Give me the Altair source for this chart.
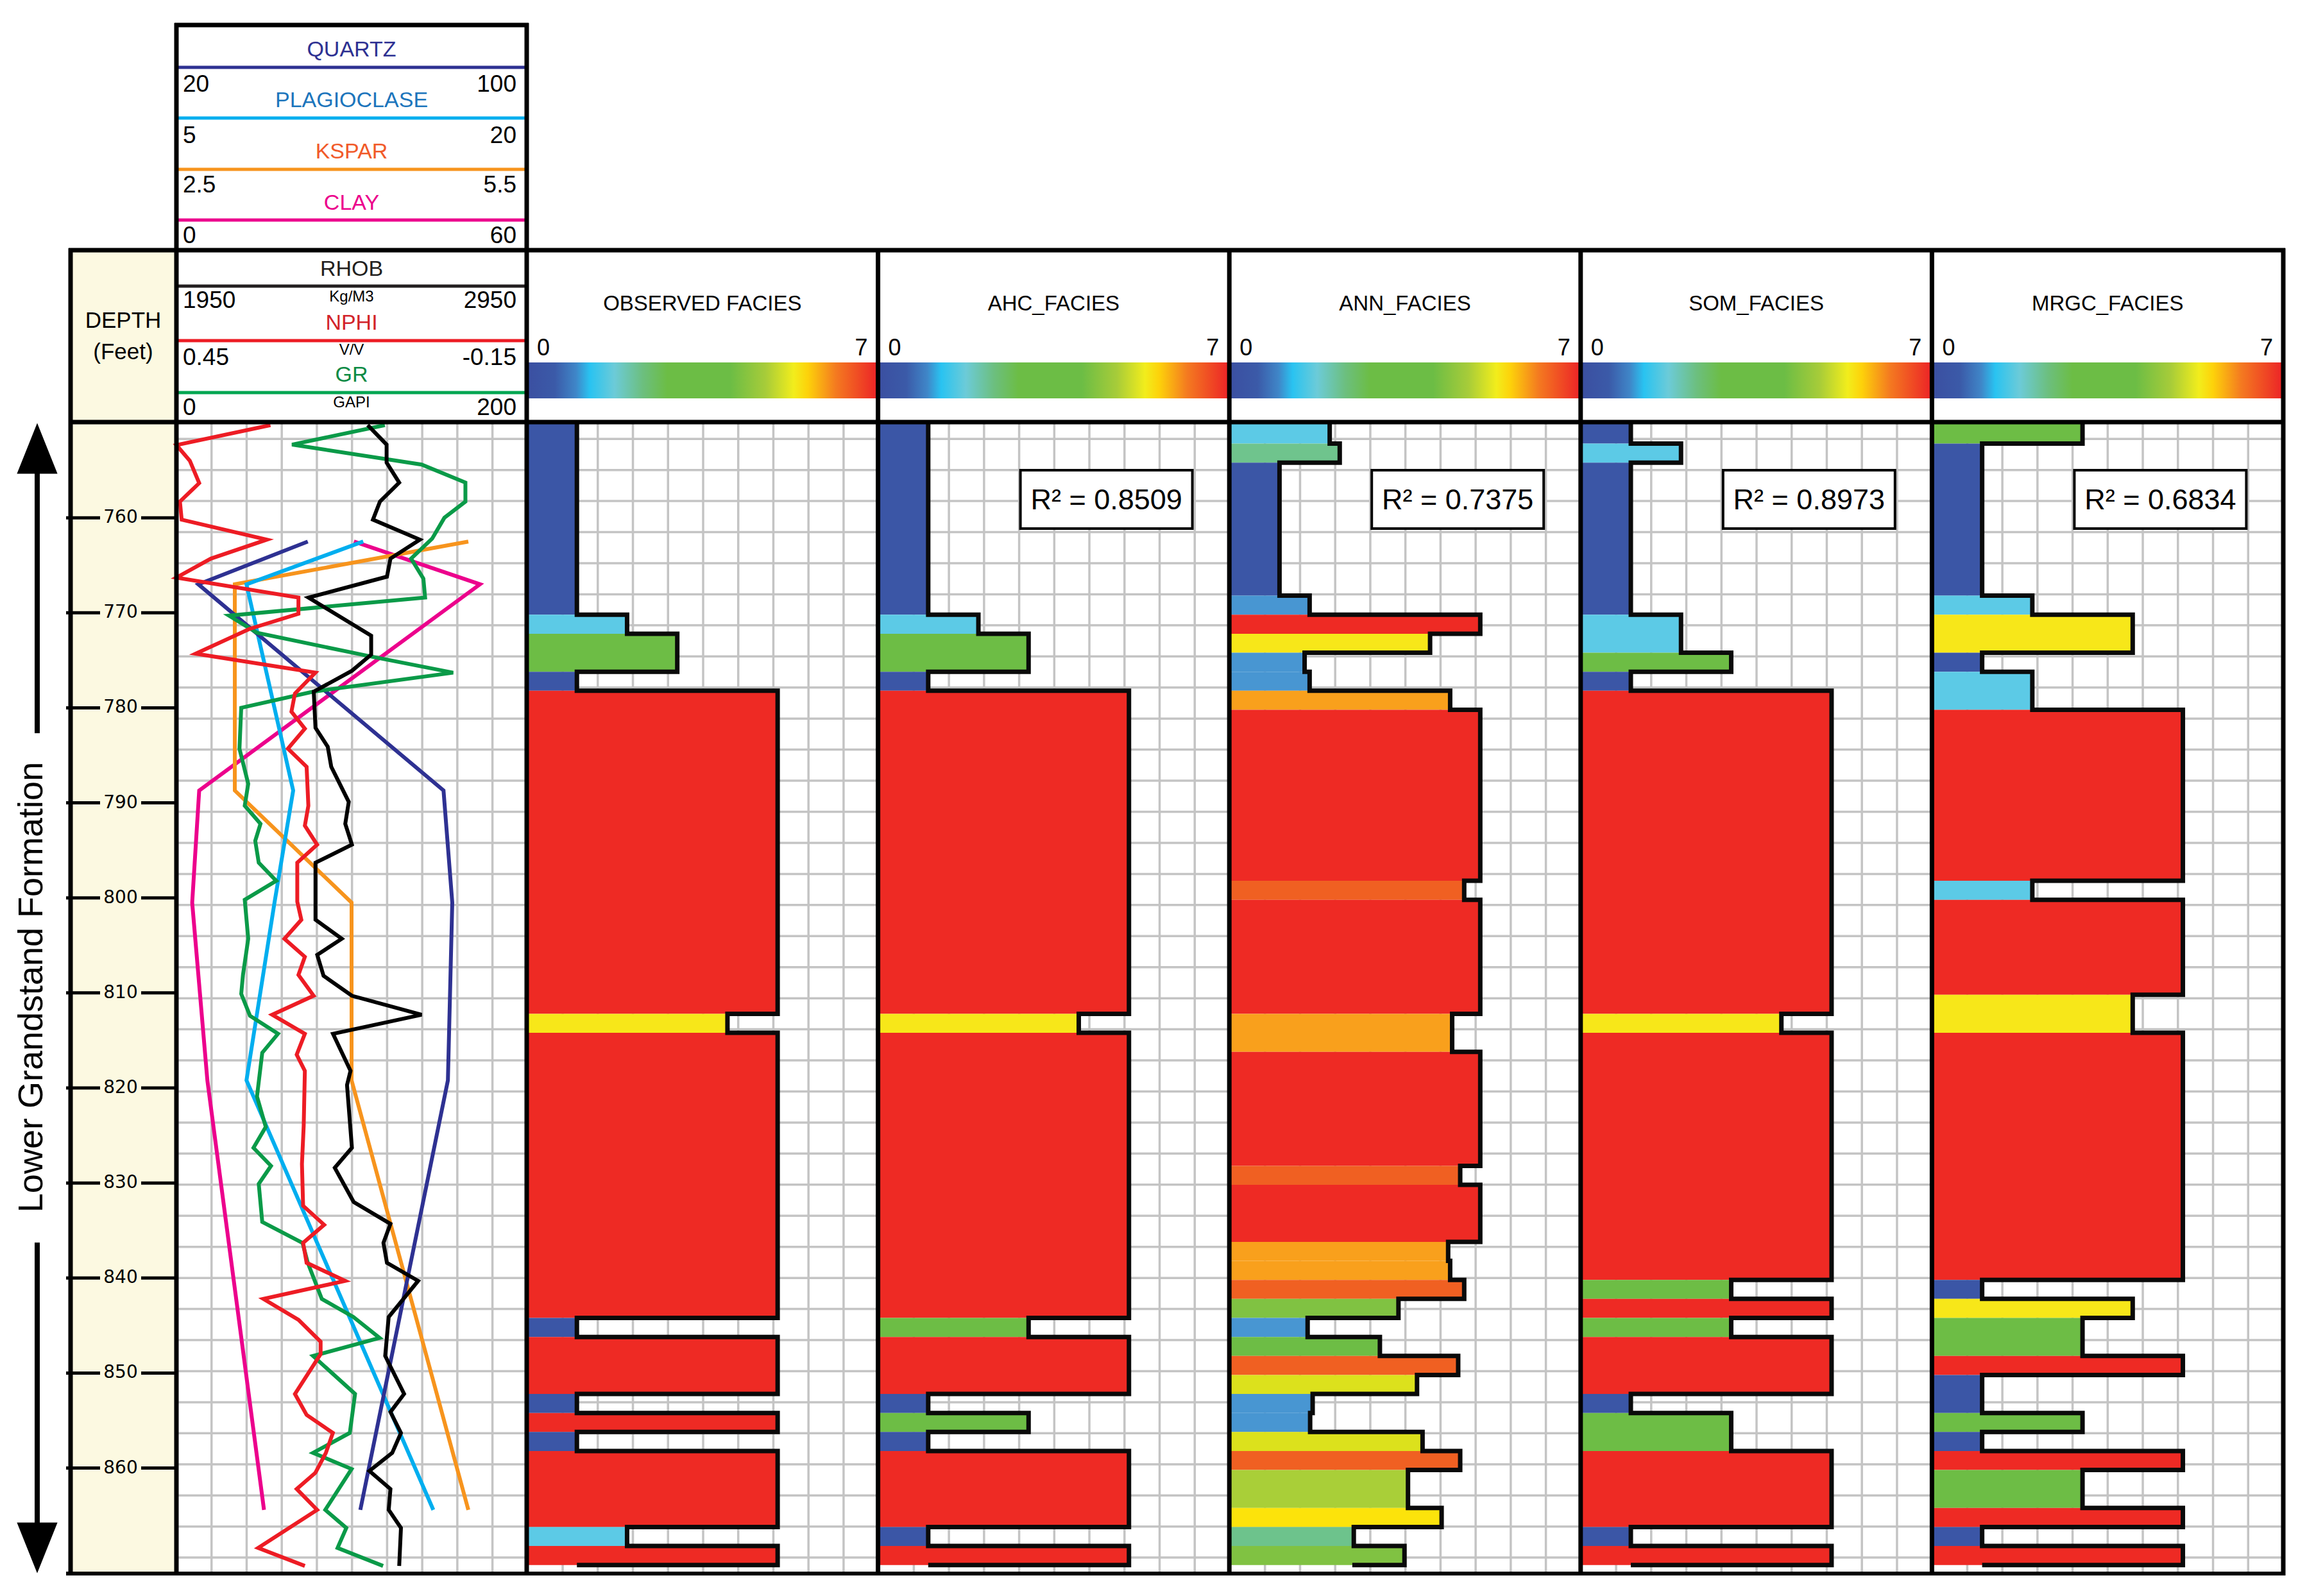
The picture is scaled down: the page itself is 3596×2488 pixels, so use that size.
import altair as alt
import pandas as pd

# ------------------------------------------------------------------ data
DEPTH_TOP = 750.0
DEPTH_BOTTOM = 871.1
DEPTH_TICKS = [760, 770, 780, 790, 800, 810, 820, 830, 840, 850, 860]

# mineral curves (core points)
MINERAL_DEPTH = [762.5, 767.0, 788.7, 800.5, 819.2, 864.4]
QUARTZ = [50.0, 25.0, 81.0, 83.0, 82.0, 62.0]
PLAGIOCLASE = [13.0, 8.0, 10.0, 9.2, 8.0, 16.0]
KSPAR = [5.0, 3.0, 3.0, 4.0, 4.0, 5.0]
CLAY = [30.4, 52.0, 3.9, 2.7, 5.3, 15.0]

RHOB_DEPTH = [750.25, 752.3, 754.2, 756.3, 758.3, 760.2, 762.3, 764.3, 766.2, 768.4,
              772.4, 774.4, 776.1, 778.3, 782.1, 784.1, 786.2, 789.9, 792.2, 794.4,
              796.3, 802.3, 804.3, 806.0, 808.2, 810.3, 812.3, 814.3, 818.2, 819.7,
              826.3, 828.4, 832.0, 834.3, 836.3, 838.4, 840.3, 844.1, 848.2, 852.2,
              854.1, 856.3, 858.4, 860.3, 862.2, 864.4, 866.3, 870.3]
RHOB = [2496, 2550, 2550, 2586, 2531, 2511, 2645, 2561, 2551, 2327,
        2506, 2506, 2451, 2342, 2347, 2382, 2392, 2442, 2432, 2451,
        2347, 2347, 2422, 2352, 2370, 2451, 2650, 2397, 2447, 2437,
        2451, 2402, 2456, 2561, 2541, 2551, 2640, 2556, 2546, 2600,
        2561, 2591, 2566, 2501, 2561, 2556, 2591, 2586]

NPHI_DEPTH = [750.25, 752.35, 754.0, 756.35, 758.3, 760.2, 762.3, 764.3, 766.3, 768.4,
              770.1, 771.7, 774.3, 776.3, 778.5, 780.4, 782.2, 784.3, 786.2, 790.3,
              792.4, 794.4, 796.3, 800.4, 802.3, 804.3, 806.2, 808.1, 810.3, 812.3,
              814.3, 816.5, 818.2, 824.0, 828.0, 832.4, 834.4, 836.3, 838.4, 840.3,
              842.2, 844.4, 846.7, 848.0, 852.2, 854.4, 856.3, 858.4, 860.5, 862.2,
              864.4, 868.4, 870.3]
NPHI = [0.289, 0.45, 0.427, 0.411, 0.444, 0.441, 0.295, 0.391, 0.45, 0.241,
        0.241, 0.325, 0.417, 0.212, 0.247, 0.253, 0.23, 0.259, 0.227, 0.224,
        0.23, 0.209, 0.243, 0.243, 0.236, 0.265, 0.23, 0.241, 0.215, 0.286,
        0.23, 0.244, 0.23, 0.232, 0.235, 0.233, 0.197, 0.233, 0.227, 0.161,
        0.301, 0.241, 0.203, 0.203, 0.247, 0.227, 0.182, 0.194, 0.212, 0.244,
        0.209, 0.31, 0.23]

GR_DEPTH = [750.25, 752.3, 754.4, 756.3, 758.3, 760.0, 762.2, 764.3, 766.4, 768.4,
            770.3, 772.1, 774.6, 776.3, 778.3, 780.0, 784.3, 788.0, 790.3, 792.2,
            794.0, 796.3, 798.2, 800.2, 804.3, 808.1, 810.1, 812.4, 814.3, 816.3,
            820.9, 824.1, 826.3, 828.2, 830.1, 834.1, 836.3, 838.4, 842.2, 844.1,
            846.3, 848.2, 852.2, 856.3, 858.4, 860.1, 864.4, 866.3, 868.4, 870.3]
GR = [119, 66, 140, 165, 165, 153, 146, 134, 141, 142,
      30, 46, 111, 158, 78, 37, 36, 41, 39, 48,
      45, 47, 57, 39, 41, 38, 37, 42, 58, 49,
      46, 51, 44, 54, 47, 49, 72, 75, 83, 101,
      116, 78, 102, 99, 78, 100, 85, 97, 92, 118]

# facies tracks: base depth of each interval and its facies value
OBS_BOTTOM = [770.2, 772.2, 776.2, 778.2, 812.2, 814.2, 844.2, 846.2, 852.2, 854.2,
              856.2, 858.2, 866.2, 868.2, 870.2]
OBS_FACIES = [1, 2, 3, 1, 5, 4, 5, 1, 5, 1, 5, 1, 5, 2, 5]

AHC_BOTTOM = [770.2, 772.2, 776.2, 778.2, 812.2, 814.2, 844.2, 846.2, 852.2, 854.2,
              856.2, 858.2, 866.2, 868.2, 870.2]
AHC_FACIES = [1, 2, 3, 1, 5, 4, 5, 3, 5, 1, 3, 1, 5, 1, 5]

ANN_BOTTOM = [752.2, 754.2, 768.2, 770.2, 772.2, 774.2, 776.2, 778.2, 780.2, 798.2,
              800.2, 812.2, 816.2, 828.2, 830.2, 836.2, 838.2, 840.2, 842.2, 844.2,
              846.2, 848.2, 850.2, 852.2, 854.2, 856.2, 858.2, 860.2, 864.2, 866.2,
              868.2, 870.2]
ANN_FACIES = [2.0, 2.2, 1.0, 1.6, 5.0, 4.0, 1.5, 1.6, 4.4, 5.0,
              4.68, 5.0, 4.44, 5.0, 4.6, 5.0, 4.36, 4.4, 4.68, 3.37,
              1.56, 3.0, 4.56, 3.74, 1.66, 1.61, 3.85, 4.6, 3.56, 4.23,
              2.48, 3.49]

SOM_BOTTOM = [752.2, 754.2, 770.2, 774.2, 776.2, 778.2, 812.2, 814.2, 840.2, 842.2,
              844.2, 846.2, 852.2, 854.2, 858.2, 866.2, 868.2, 870.2]
SOM_FACIES = [1, 2, 1, 2, 3, 1, 5, 4, 5, 3, 5, 3, 5, 1, 3, 5, 1, 5]

MRGC_BOTTOM = [752.2, 768.2, 770.2, 774.2, 776.2, 780.2, 798.2, 800.2, 810.2, 814.2,
               840.2, 842.2, 844.2, 848.2, 850.2, 854.2, 856.2, 858.2, 860.2, 864.2,
               866.2, 868.2, 870.2]
MRGC_FACIES = [3, 1, 2, 4, 1, 2, 5, 2, 5, 4, 5, 1, 4, 3, 5, 1, 3, 1, 5, 3, 5, 1, 5]

OUTLINE_END = [1, 1, 2.45, 1, 1]
TRACK_NAMES = ["OBSERVED FACIES", "AHC_FACIES", "ANN_FACIES", "SOM_FACIES", "MRGC_FACIES"]
R2_LABELS = ["", "R² = 0.8509", "R² = 0.7375", "R² = 0.8973", "R² = 0.6834"]

FACIES_BOTTOMS = [OBS_BOTTOM, AHC_BOTTOM, ANN_BOTTOM, SOM_BOTTOM, MRGC_BOTTOM]
FACIES_VALUES = [OBS_FACIES, AHC_FACIES, ANN_FACIES, SOM_FACIES, MRGC_FACIES]

# ------------------------------------------------------------------ layout / style
W, H = 3580, 2472


def cx(x):
    return x - 8


def cy(y):
    return y - 8


X_DEPTH_L, X_LOG_L, X_LOG_R, X_RIGHT = 110, 275, 821, 3559
TRACK_W = (X_RIGHT - X_LOG_R) / 5
Y_TOPBOX, Y_HEAD, Y_PLOT, Y_BOTTOM = 39, 390, 658, 2453

FONT = "Liberation Sans Narrow, Liberation Sans, Arial, sans-serif"
GRID_COLOR = "#c4c4c4"

DEPTH_SCALE = alt.Scale(domain=[DEPTH_TOP, DEPTH_BOTTOM], range=[cy(659), cy(Y_BOTTOM)],
                        zero=False, nice=False)

FACIES_SCALE = alt.Scale(
    domain=[1.0, 1.3, 1.5, 1.7, 2.0, 2.1, 2.2, 2.6, 2.95, 3.05, 3.35, 3.5, 3.56, 3.7,
            3.88, 3.98, 4.25, 4.35, 4.45, 4.55, 4.7, 4.9, 5.0],
    range=["#3b56a6", "#3b56a6", "#4896d2", "#4896d2", "#5ccae6", "#5ccae6", "#6fc48d",
           "#6cc28b", "#6dbd45", "#6dbd45", "#80c242", "#80c242", "#a9cf38", "#dce11c",
           "#dce11c", "#f6e71a", "#fde30a", "#f9a01c", "#f9a01c", "#f06022", "#f06022",
           "#ee2a24", "#ee2a24"],
    interpolate="rgb", clamp=True)

GRADIENT = alt.LinearGradient(
    gradient="linear", x1=0, x2=1, y1=0, y2=0,
    stops=[alt.GradientStop(offset=o, color=c) for o, c in [
        (0.00, "#3b4fa1"), (0.08, "#3b5aa8"), (0.14, "#3f86c8"), (0.18, "#29c3f1"),
        (0.25, "#6ccbd8"), (0.33, "#6cbf7f"), (0.40, "#6cbd45"), (0.58, "#6cbd45"),
        (0.68, "#a7cc39"), (0.76, "#f2ed1c"), (0.80, "#fdd20a"), (0.88, "#f47a20"),
        (1.00, "#ec2227")]])

ONE = pd.DataFrame({"k": [0]})


def rect(x1, x2, y1, y2, **kw):
    return alt.Chart(ONE).mark_rect(**kw).encode(
        x=alt.value(cx(x1)), x2=alt.value(cx(x2)), y=alt.value(cy(y1)), y2=alt.value(cy(y2)))


def hline(x1, x2, y, color="black", width=6):
    return alt.Chart(ONE).mark_rule(color=color, strokeWidth=width).encode(
        x=alt.value(cx(x1)), x2=alt.value(cx(x2)), y=alt.value(cy(y)))


def vline(x, y1, y2, color="black", width=6):
    return alt.Chart(ONE).mark_rule(color=color, strokeWidth=width).encode(
        x=alt.value(cx(x)), y=alt.value(cy(y1)), y2=alt.value(cy(y2)))


def label(x, y, text, size, color="black", align="center", font=FONT, **kw):
    return alt.Chart(ONE).mark_text(text=text, fontSize=size, color=color, align=align,
                                    baseline="middle", font=font, **kw).encode(
        x=alt.value(cx(x)), y=alt.value(cy(y)))


layers = []

# cream depth column
layers.append(rect(X_DEPTH_L, X_LOG_L, Y_HEAD, Y_BOTTOM, fill="#fcf9e1"))

# grid
GRID_DEPTHS = [round(751.7 + 3.27 * k, 2) for k in range(37)]
layers.append(alt.Chart(pd.DataFrame({"d": GRID_DEPTHS})).mark_rule(
    color=GRID_COLOR, strokeWidth=3.5).encode(
    y=alt.Y("d:Q", scale=DEPTH_SCALE, axis=None),
    x=alt.value(cx(X_LOG_L)), x2=alt.value(cx(X_RIGHT))))
VGRID = [k for k in range(1, 60) if k % 10]
layers.append(alt.Chart(pd.DataFrame({"g": VGRID})).mark_rule(
    color=GRID_COLOR, strokeWidth=3.5).encode(
    x=alt.X("g:Q", scale=alt.Scale(domain=[0, 60], range=[cx(X_LOG_L), cx(X_RIGHT)],
                                   zero=False, nice=False), axis=None),
    y=alt.value(cy(Y_PLOT)), y2=alt.value(cy(Y_BOTTOM))))

# facies tracks
for i in range(5):
    L = X_LOG_R + i * TRACK_W
    R = L + TRACK_W
    bottoms = FACIES_BOTTOMS[i]
    vals = FACIES_VALUES[i]
    tops = [DEPTH_TOP] + bottoms[:-1]
    df = pd.DataFrame({"top": tops, "bottom": bottoms, "facies": vals})
    xs = alt.Scale(domain=[0, 7], range=[cx(L), cx(R)], zero=False, nice=False)
    layers.append(alt.Chart(df).transform_calculate(base="0").mark_rect().encode(
        x=alt.X("base:Q", scale=xs, axis=None), x2="facies:Q",
        y=alt.Y("top:Q", scale=DEPTH_SCALE, axis=None), y2="bottom:Q",
        color=alt.Color("facies:Q", scale=FACIES_SCALE, legend=None)))
    fx, fy = [], []
    for t, b, f in zip(tops, bottoms, vals):
        fx += [f, f]
        fy += [t, b]
    fx.append(OUTLINE_END[i])
    fy.append(bottoms[-1])
    odf = pd.DataFrame({"f": fx, "d": fy, "i": list(range(len(fx)))})
    layers.append(alt.Chart(odf).mark_line(color="#0a0a0a", strokeWidth=7,
                                           strokeJoin="miter").encode(
        x=alt.X("f:Q", scale=xs, axis=None),
        y=alt.Y("d:Q", scale=DEPTH_SCALE, axis=None),
        order="i:Q"))


# log curves
def curve(depths, values, lo, hi, color, reverse=False):
    df = pd.DataFrame({"depth": depths, "value": values, "i": list(range(len(depths)))})
    sc = dict(domain=[lo, hi], range=[cx(X_LOG_L), cx(X_LOG_R)], zero=False, nice=False)
    if reverse:
        sc["reverse"] = True
    return alt.Chart(df).mark_line(color=color, strokeWidth=6).encode(
        x=alt.X("value:Q", scale=alt.Scale(**sc), axis=None),
        y=alt.Y("depth:Q", scale=DEPTH_SCALE, axis=None),
        order="i:Q")


layers.append(curve(MINERAL_DEPTH, CLAY, 0, 60, "#ec008c"))
layers.append(curve(MINERAL_DEPTH, KSPAR, 2.5, 5.5, "#f7941d"))
layers.append(curve(MINERAL_DEPTH, PLAGIOCLASE, 5, 20, "#00aeef"))
layers.append(curve(MINERAL_DEPTH, QUARTZ, 20, 100, "#2e3192"))
layers.append(curve(GR_DEPTH, GR, 0, 200, "#0a9a48"))
layers.append(curve(NPHI_DEPTH, NPHI, -0.15, 0.45, "#ed1c24", reverse=True))
layers.append(curve(RHOB_DEPTH, RHOB, 1950, 2950, "#000000"))

# R² boxes
for i in range(1, 5):
    L = X_LOG_R + i * TRACK_W
    layers.append(rect(L + 222, L + 490, 733, 824, fill="white", stroke="black", strokeWidth=4))
    layers.append(label(L + 356, 780, R2_LABELS[i], 45))

# facies headers
for i in range(5):
    L = X_LOG_R + i * TRACK_W
    R = L + TRACK_W
    layers.append(label(L + TRACK_W / 2, 474, TRACK_NAMES[i], 33))
    layers.append(label(L + 16, 543, "0", 36, align="left"))
    layers.append(label(R - 16, 543, "7", 36, align="right"))
    layers.append(rect(L, R, 565, 621, fill=GRADIENT))

# log header
XC = (X_LOG_L + X_LOG_R) / 2
HEAD_NAMES = [("QUARTZ", 78, "#2e3192"), ("PLAGIOCLASE", 157, "#1c75bc"),
              ("KSPAR", 237, "#f15a29"), ("CLAY", 317, "#ec008c"),
              ("RHOB", 420, "#231f20"), ("NPHI", 504, "#d2232a"), ("GR", 585, "#0b8a44")]
HEAD_RANGES = [("20", "100", 132), ("5", "20", 212), ("2.5", "5.5", 289), ("0", "60", 368),
               ("1950", "2950", 469), ("0.45", "-0.15", 558), ("0", "200", 636)]
HEAD_UNITS = [("Kg/M3", 463), ("V/V", 546), ("GAPI", 628)]
HEAD_LINES = [(105, "#2e3192"), (184, "#00aeef"), (264, "#f7941d"), (343, "#ec008c"),
              (446, "#231f20"), (531, "#ed1c24"), (612, "#00a651")]
for t, y, c in HEAD_NAMES:
    layers.append(label(XC, y, t, 34, color=c))
for lo, hi, y in HEAD_RANGES:
    layers.append(label(X_LOG_L + 10, y, lo, 37, align="left"))
    layers.append(label(X_LOG_R - 16, y, hi, 37, align="right"))
for t, y in HEAD_UNITS:
    layers.append(label(XC, y, t, 24))
for y, c in HEAD_LINES:
    layers.append(hline(X_LOG_L, X_LOG_R, y, color=c, width=5))

# depth header
layers.append(label(192, 500, "DEPTH", 35))
layers.append(label(192, 549, "(Feet)", 35))

# borders
layers.append(hline(X_LOG_L - 3, X_LOG_R + 3, Y_TOPBOX, width=7))
layers.append(hline(X_DEPTH_L - 3, X_RIGHT + 3, Y_HEAD, width=7))
layers.append(hline(X_DEPTH_L - 3, X_RIGHT + 3, Y_PLOT, width=7))
layers.append(hline(103, X_RIGHT + 3, Y_BOTTOM, width=6))
layers.append(vline(X_DEPTH_L, Y_HEAD - 3, Y_BOTTOM + 3, width=7))
layers.append(vline(X_LOG_L, Y_TOPBOX - 3, Y_BOTTOM + 3, width=7))
for i in range(6):
    x = X_LOG_R + i * TRACK_W
    top = Y_TOPBOX - 3 if i == 0 else Y_HEAD - 3
    layers.append(vline(x, top, Y_BOTTOM + 3, width=7))

# depth ticks
tick_df = pd.DataFrame({"depth": DEPTH_TICKS, "label": [str(d) for d in DEPTH_TICKS]})
layers.append(alt.Chart(tick_df).mark_rule(color="black", strokeWidth=5).encode(
    y=alt.Y("depth:Q", scale=DEPTH_SCALE, axis=None),
    x=alt.value(cx(103)), x2=alt.value(cx(156))))
layers.append(alt.Chart(tick_df).mark_rule(color="black", strokeWidth=5).encode(
    y=alt.Y("depth:Q", scale=DEPTH_SCALE, axis=None),
    x=alt.value(cx(220)), x2=alt.value(cx(273))))
layers.append(alt.Chart(tick_df).mark_text(font="DejaVu Sans", fontSize=28, color="black",
                                           baseline="middle").encode(
    y=alt.Y("depth:Q", scale=DEPTH_SCALE, axis=None),
    x=alt.value(cx(188)), text="label:N"))

# formation arrows and label
layers.append(vline(58, 735, 1143, width=8))
layers.append(vline(58, 1937, 2378, width=8))
layers.append(alt.Chart(ONE).mark_point(shape="M0,-1L0.8,1L-0.8,1Z", filled=True, size=6241,
                                        color="black", opacity=1).encode(
    x=alt.value(cx(58)), y=alt.value(cy(699))))
layers.append(alt.Chart(ONE).mark_point(shape="M0,1L0.8,-1L-0.8,-1Z", filled=True, size=6241,
                                        color="black", opacity=1).encode(
    x=alt.value(cx(58)), y=alt.value(cy(2413))))
layers.append(label(50, 1539, "Lower Grandstand Formation", 54, font="Liberation Sans",
                    angle=270))

chart = alt.layer(*layers).resolve_scale(x="independent").properties(
    width=W, height=H, autosize=alt.AutoSizeParams(type="none"), padding=0,
    background="white").configure_view(strokeWidth=0)

chart.save("out.html", embed_options={"renderer": "svg", "actions": False})
